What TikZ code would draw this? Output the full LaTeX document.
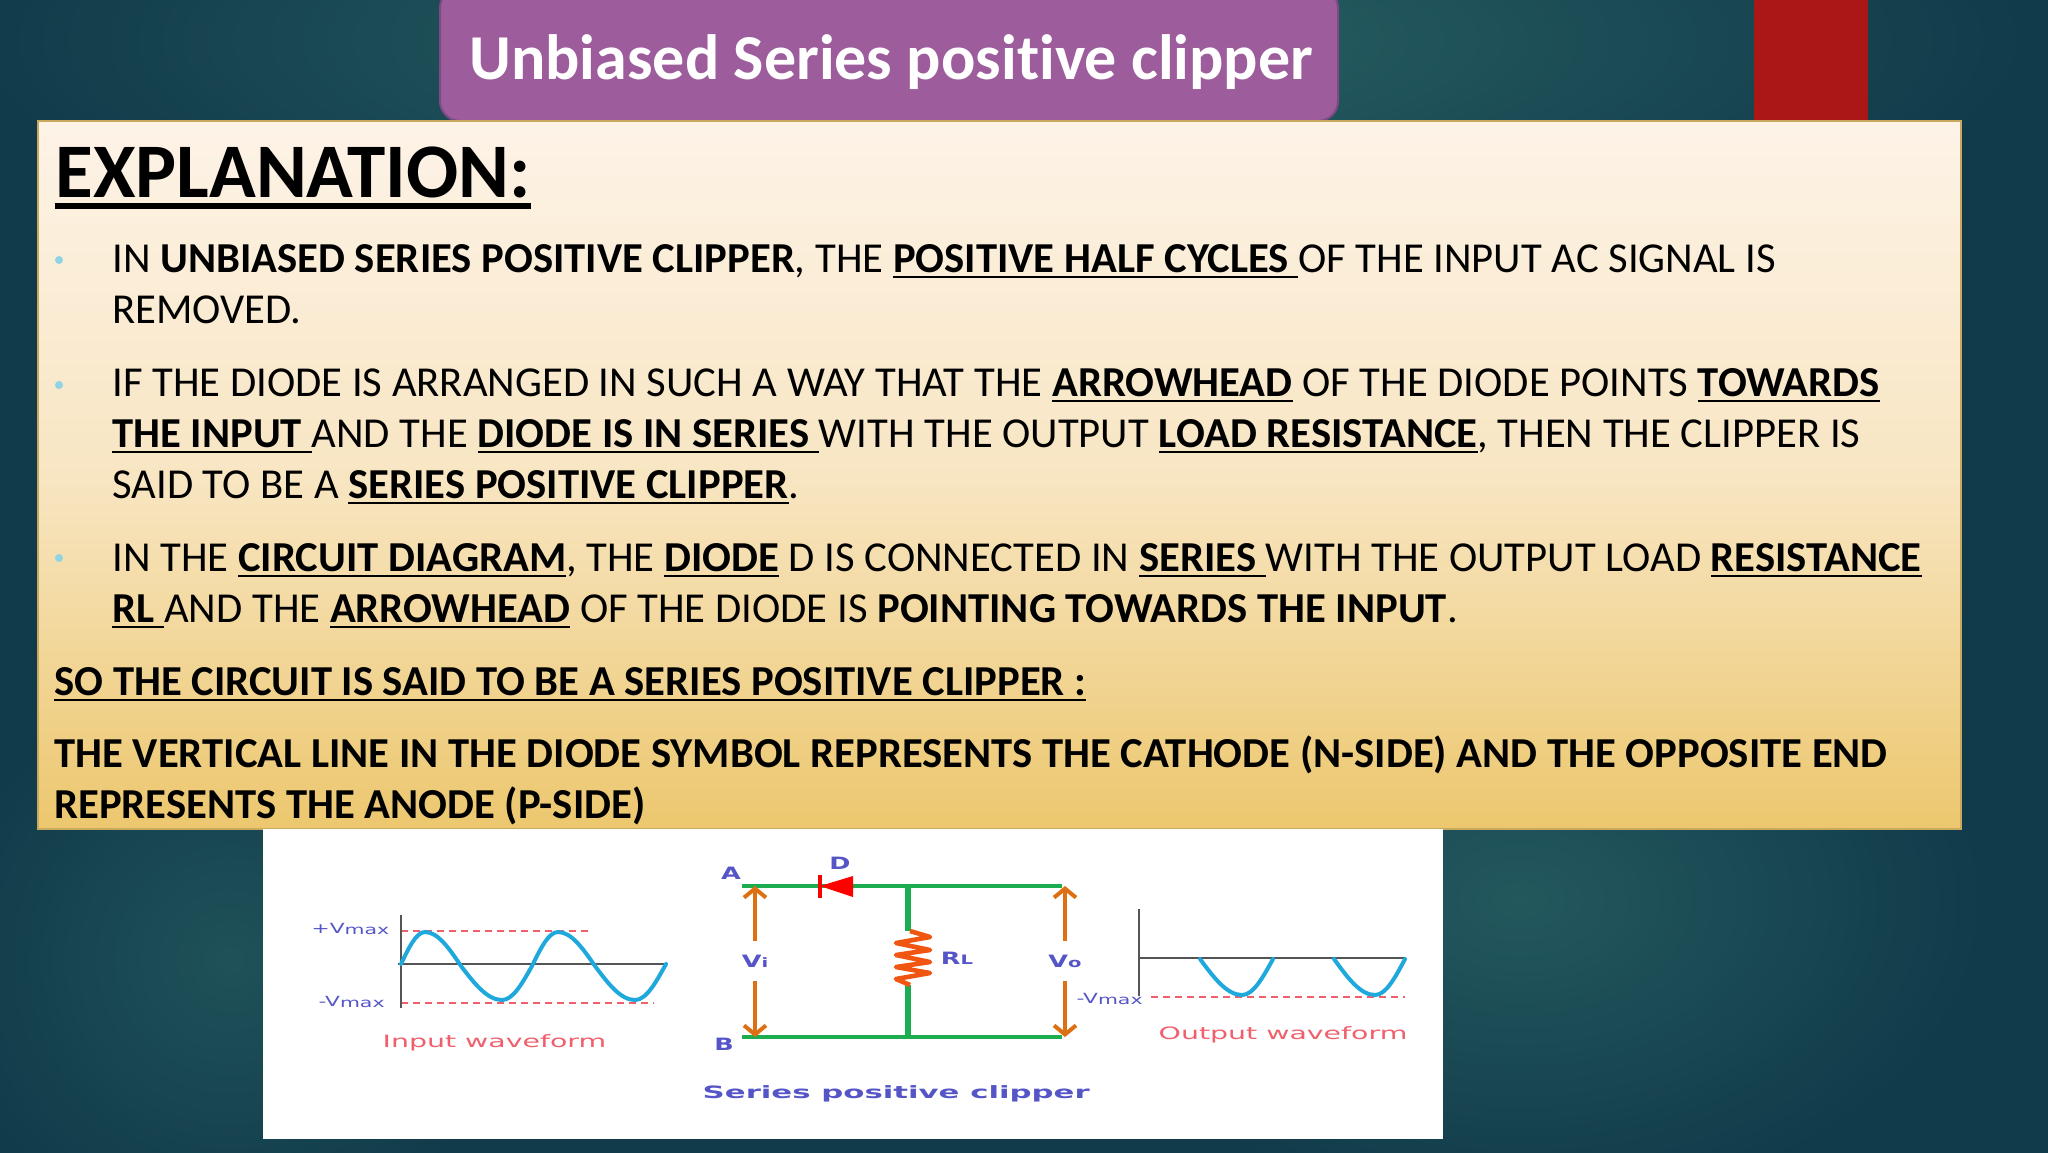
\documentclass[tikz,border=0pt]{standalone}
\usepackage{fontspec}
\setmainfont{Carlito}[Ligatures=NoCommon]
\newfontfamily\wavefont{DejaVu Sans}
\usetikzlibrary{arrows.meta,fadings,positioning}
\definecolor{bgdark}{HTML}{113A4A}
\definecolor{bgglow}{HTML}{2B6666}
\definecolor{titlefill}{HTML}{9D5C9B}
\definecolor{titleedge}{HTML}{7E4A85}
\definecolor{stripred}{HTML}{AB1616}
\definecolor{paneltop}{HTML}{FDF3E7}
\definecolor{panelbot}{HTML}{ECC76E}
\definecolor{dotblue}{HTML}{8FD3E4}
\definecolor{labelblue}{HTML}{5555C8}
\definecolor{labelred}{HTML}{F0606C}
\definecolor{wiregreen}{HTML}{1CAD50}
\definecolor{voltorange}{HTML}{DD7012}
\definecolor{resorange}{HTML}{F05512}
\definecolor{wavecyan}{HTML}{1EA8DC}
\definecolor{axisgrey}{HTML}{555555}
\tikzfading[name=softglow,inner color=transparent!0,outer color=transparent!100]
\newcommand{\ultext}[1]{\leavevmode\setbox0=\hbox{#1}\rlap{\rule[-3.2pt]{\wd0}{1.4pt}}\box0}
\newcommand{\headul}[1]{\leavevmode\setbox0=\hbox{#1}\rlap{\rule[-6pt]{\wd0}{3pt}}\box0}
\newcommand{\vmaxlabel}[1]{#1V{\fontsize{6.6}{8}\selectfont\raisebox{-0.6pt}{max}}}
\tikzset{
  bodyline/.style={anchor=base west,inner sep=0pt,text=black,font=\fontsize{21.33}{25}\selectfont},
  wavelabel/.style={anchor=base west,inner sep=0pt,transform shape,xscale=1.67,font=\wavefont\fontsize{8.5}{10}\selectfont},
  vlabel/.style={anchor=base west,inner sep=0pt,text=labelblue,transform shape,xscale=1.55,font=\wavefont\fontsize{7}{9}\selectfont},
  pinlabel/.style={inner sep=0pt,text=labelblue,transform shape,xscale=1.5,font=\wavefont\bfseries\fontsize{8.5}{10}\selectfont},
  voltlabel/.style={pinlabel,minimum height=20pt},
  wire/.style={wiregreen,line width=1.8pt},
  loadwire/.style={wiregreen,line width=3pt},
  voltarrow/.style={voltorange,line width=2pt,-{Straight Barb[length=4.5pt,width=11pt,line width=2pt]}},
  wave/.style={wavecyan,line width=2pt,line cap=round},
  axisline/.style={axisgrey,line width=1pt},
  peakline/.style={labelred,line width=0.8pt,dash pattern=on 3.5pt off 2.5pt},
  bulletdot/.style={circle,fill=dotblue,inner sep=0pt,minimum size=4pt},
  glow/.style={bgglow,path fading=softglow}
}
\begin{document}
\begin{tikzpicture}[x=0.5pt,y=-0.5pt]
\useasboundingbox (0,0) rectangle (2048,1152);

% Drawing background
\fill [bgdark] (-4,-4) rectangle (2052,1156);
\begin{scope}
\clip (0,0) rectangle (2048,1152);
\fill [glow] (1000,40) ellipse (1050 and 260);
\fill [glow,opacity=0.7] (1520,900) ellipse (480 and 320);
\fill [glow,opacity=0.55] (230,960) ellipse (300 and 300);
\end{scope}

% Drawing title and red strip
\fill [stripred] (1754,0) rectangle (1868,122);
\draw [titleedge,fill=titlefill,line width=1pt,rounded corners=10pt] (440,-12) rectangle (1338,121);
\node [anchor=base west,inner sep=0pt,text=white,font=\bfseries\fontsize{32}{38}\selectfont] (title) at (469,79) {Unbiased Series positive clipper};

% Drawing panel
\shade [top color=paneltop,bottom color=panelbot,middle color=paneltop!70!panelbot] (38,121) rectangle (1961,829);
\draw [panelbot!85!black,line width=0.6pt] (38,121) rectangle (1961,829);

% Marking heading
\node [anchor=base west,inner sep=0pt,font=\bfseries\fontsize{38.6}{44}\selectfont] (heading) at (55,197) {\headul{EXPLANATION:}};

% Marking bullets
\node [bulletdot] (dota) at (59,260) {};
\node [bulletdot] (dotb) at (59,385) {};
\node [bulletdot] (dotc) at (59,558) {};

% Marking lines of text
\node [bodyline] (linea) at (112,272) {IN \textbf{UNBIASED SERIES POSITIVE CLIPPER}, THE \textbf{\ultext{POSITIVE HALF CYCLES }}OF THE INPUT AC SIGNAL IS};
\node [bodyline] (lineb) at (112,323) {REMOVED.};
\node [bodyline] (linec) at (112,396) {IF THE DIODE IS ARRANGED IN SUCH A WAY THAT THE \textbf{\ultext{ARROWHEAD}} OF THE DIODE POINTS \textbf{\ultext{TOWARDS}}};
\node [bodyline] (lined) at (112,447) {\textbf{\ultext{THE INPUT }}AND THE \textbf{\ultext{DIODE IS IN SERIES }}WITH THE OUTPUT \textbf{\ultext{LOAD RESISTANCE}}, THEN THE CLIPPER IS};
\node [bodyline] (linee) at (112,498) {SAID TO BE A \textbf{\ultext{SERIES POSITIVE CLIPPER}}.};
\node [bodyline] (linef) at (112,571) {IN THE \textbf{\ultext{CIRCUIT DIAGRAM}}, THE \textbf{\ultext{DIODE}} D IS CONNECTED IN \textbf{\ultext{SERIES }}WITH THE OUTPUT LOAD \textbf{\ultext{RESISTANCE}}};
\node [bodyline] (lineg) at (112,622) {\textbf{\ultext{RL }}AND THE \textbf{\ultext{ARROWHEAD}} OF THE DIODE IS \textbf{POINTING TOWARDS THE INPUT}.};
\node [bodyline] (lineh) at (54,695) {\textbf{\ultext{SO THE CIRCUIT IS SAID TO BE A SERIES POSITIVE CLIPPER :}}};
\node [bodyline] (linei) at (54,767) {\textbf{THE VERTICAL LINE IN THE DIODE SYMBOL REPRESENTS THE CATHODE (N-SIDE) AND THE OPPOSITE END}};
\node [bodyline] (linej) at (54,818) {\textbf{REPRESENTS THE ANODE (P-SIDE)}};

% Drawing white picture
\fill [white] (263,829) rectangle (1443,1139);

% Drawing input waveform
\draw [peakline] (401,931) -- (589,931);
\draw [peakline] (401,1003) -- (654,1003);
\draw [axisline] (400.5,915) -- (400.5,1008);
\draw [axisline] (398,964) -- (666,964);
\draw [wave] (401,964) sin (425,932) cos (461,966) sin (502,1000) cos (532,966) sin (558,932) cos (595,966) sin (635,1000) cos (666,964);
\node [vlabel] (vmaxin) at (311,933) {\vmaxlabel{+}};
\node [vlabel] (vminin) at (318,1006) {\vmaxlabel{-}};
\node [wavelabel,text=labelred] (inlabel) at (382,1047) {Input waveform};

% Drawing circuit
\coordinate (wireAl) at (742,886);
\coordinate (wireAr) at (1062,886);
\coordinate (wireBl) at (742,1037);
\coordinate (wireBr) at (1062,1037);
\coordinate (loadA) at (908,886);
\coordinate (loadB) at (908,1037);
\coordinate (restop) at (910,931);
\coordinate (resbot) at (910,985);
\draw [wire] (wireAl) -- (wireAr);
\draw [wire] (wireBl) -- (wireBr);
\draw [loadwire] (loadA) -- (loadA |- restop);
\draw [loadwire] (loadB |- resbot) -- (loadB);
\draw [resorange,line width=2.3pt,line join=round] (restop) -- (930,937) -- (896,943) -- (930,950) -- (896,955) -- (930,962) -- (896,967) -- (930,973) -- (896,979) -- (resbot);

% Drawing diode
\fill [red] (820,886) -- (853,876) -- (853,897) -- cycle;
\draw [red,line width=2pt] (819.5,875) -- (819.5,898);

% Marking circuit labels
\node [pinlabel] (pinA) at (731,873) {A};
\node [pinlabel] (pinB) at (724,1044) {B};
\node [pinlabel] (diodeD) at (840,863) {D};
\node [pinlabel] (loadR) at (957,958) {R{\fontsize{6.5}{8}\selectfont L}};
\node [voltlabel] (vin) at (755,961) {V{\fontsize{6.5}{8}\selectfont i}};
\node [voltlabel] (vout) at (1065,961) {V{\fontsize{6.5}{8}\selectfont o}};
\draw [voltarrow] (vin.north) -- (vin.north |- wireAl);
\draw [voltarrow] (vin.south) -- (vin.south |- wireBl);
\draw [voltarrow] (vout.north) -- (vout.north |- wireAr);
\draw [voltarrow] (vout.south) -- (vout.south |- wireBr);
\node [anchor=base west,inner sep=0pt,text=labelblue,transform shape,xscale=1.81,font=\wavefont\bfseries\fontsize{8.5}{10}\selectfont] (caption) at (702,1098) {Series positive clipper};

% Drawing output waveform
\draw [axisline] (1139,909) -- (1139,996);
\draw [axisline] (1139,958) -- (1405,958);
\draw [peakline] (1151,997) -- (1405,997);
\draw [wave] (1200,959) sin (1242,995) cos (1273,959);
\draw [wave] (1334,959) sin (1375,995) cos (1405,959);
\node [vlabel] (vminout) at (1076,1003) {\vmaxlabel{-}};
\node [wavelabel,text=labelred] (outlabel) at (1158,1039) {Output waveform};
\end{tikzpicture}
\end{document}
